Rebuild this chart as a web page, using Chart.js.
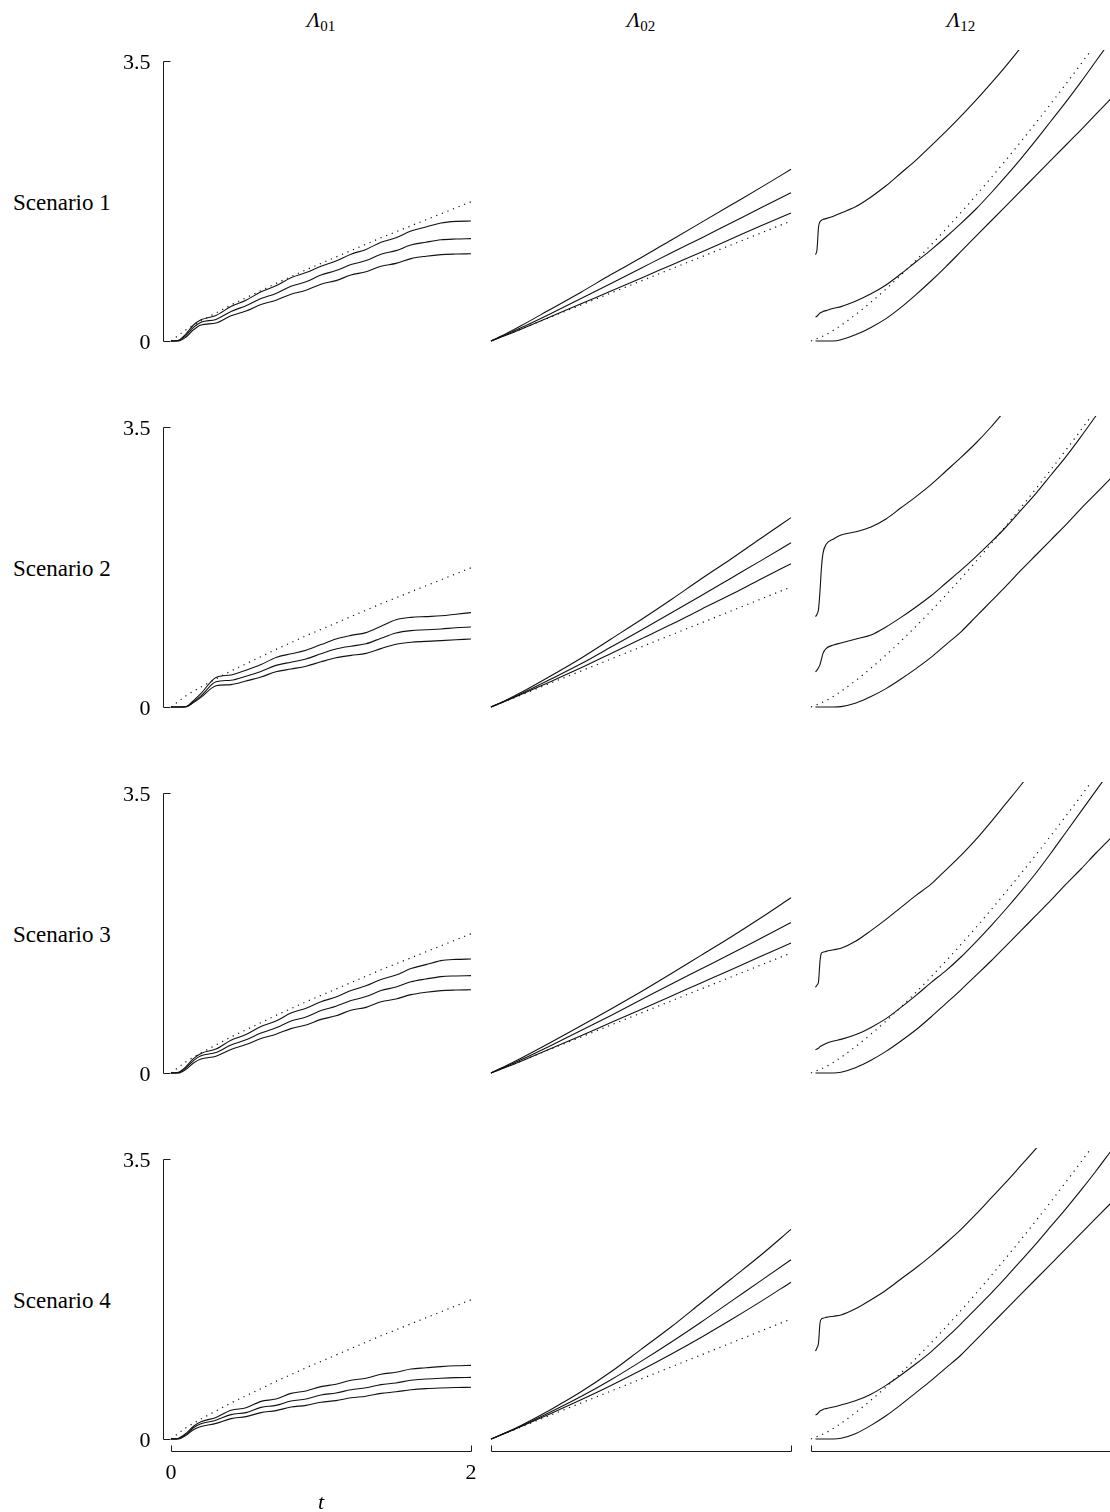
<!DOCTYPE html>
<html>
<head>
<meta charset="utf-8">
<script src="https://cdn.jsdelivr.net/npm/chart.js@4.4.1/dist/chart.umd.min.js"></script>
<style>
  html, body { margin: 0; padding: 0; background: #fff; overflow: hidden; }
  #page { position: relative; width: 1110px; height: 1512px; overflow: hidden;
          font-family: "Liberation Serif", "Times New Roman", serif; color: #000; }
  #page canvas { position: absolute; }
  .col-title { position: absolute; top: 9px; width: 120px; text-align: center;
               font-size: 22px; line-height: 1; white-space: nowrap; }
  .col-title i { font-style: italic; }
  .col-title span { font-size: 15px; position: relative; top: 4px; }
  .row-label { position: absolute; left: 13px; font-size: 23px; line-height: 1; white-space: nowrap; }
</style>
</head>
<body>
<div id="page"></div>
<script>
// ---- time grids ----
const tA = [0, 0.05, 0.1, 0.15, 0.2, 0.3, 0.4, 0.5, 0.6, 0.7, 0.8, 0.9, 1.0, 1.1, 1.2, 1.3, 1.4, 1.5, 1.6, 1.7, 1.8, 1.9, 2.0];
const tB = [0, 0.1, 0.2, 0.4, 0.6, 0.8, 1.0, 1.2, 1.4, 1.6, 1.8, 2.0];
const tC = [0.03, 0.04, 0.05, 0.06, 0.07, 0.08, 0.1, 0.15, 0.2, 0.3, 0.4, 0.5, 0.6, 0.7, 0.8, 0.9, 1.0, 1.1, 1.2, 1.3, 1.4, 1.5, 1.6, 1.7, 1.8, 1.9, 2.0];
const tD = [0, 0.1, 0.2, 0.3, 0.4, 0.5, 0.6, 0.7, 0.8, 0.9, 1.0, 1.1, 1.2, 1.3, 1.4, 1.5, 1.6, 1.7, 1.8, 1.9, 2.0];

// ---- labels ----
const transitions = ["01", "02", "12"];
const scenarios = ["Scenario 1", "Scenario 2", "Scenario 3", "Scenario 4"];
const yTicks = [0, 3.5];
const yTickLabels = ["0", "3.5"];
const xTicks = [0, 2];
const xTickLabels = ["0", "2"];
const xTitle = "t";

// ---- true cumulative hazards (dotted) ----
const true01 = [0, 0.14, 0.25, 0.35, 0.45, 0.54, 0.63, 0.72, 0.805, 0.89, 0.97, 1.05, 1.13, 1.21, 1.29, 1.365, 1.44, 1.515, 1.59, 1.665, 1.74];
const true02 = [0, 0.075, 0.15, 0.3, 0.45, 0.6, 0.75, 0.9, 1.05, 1.2, 1.35, 1.5];
const true12 = [0, 0.079, 0.196, 0.334, 0.486, 0.65, 0.825, 1.009, 1.201, 1.4, 1.607, 1.82, 2.039, 2.264, 2.494, 2.729, 2.969, 3.214, 3.463, 3.716, 3.973];

// ---- estimates, Lambda01 (upper / middle / lower) ----
const s1_01_hi  = [0, 0.01, 0.09, 0.2, 0.265, 0.32, 0.43, 0.51, 0.615, 0.69, 0.79, 0.855, 0.935, 1.0, 1.085, 1.145, 1.235, 1.29, 1.375, 1.425, 1.475, 1.495, 1.5];
const s1_01_mid = [0, 0.005, 0.07, 0.17, 0.235, 0.27, 0.37, 0.44, 0.53, 0.595, 0.685, 0.74, 0.825, 0.88, 0.955, 1.005, 1.085, 1.13, 1.2, 1.235, 1.265, 1.275, 1.28];
const s1_01_lo  = [0, 0, 0.05, 0.14, 0.2, 0.225, 0.315, 0.375, 0.455, 0.51, 0.585, 0.635, 0.71, 0.755, 0.825, 0.865, 0.935, 0.97, 1.03, 1.06, 1.08, 1.087, 1.09];

const s2_01_hi  = [0, 0, 0.005, 0.08, 0.17, 0.37, 0.40, 0.46, 0.53, 0.62, 0.665, 0.71, 0.78, 0.85, 0.895, 0.93, 1.01, 1.09, 1.12, 1.13, 1.14, 1.16, 1.18];
const s2_01_mid = [0, 0, 0.004, 0.065, 0.14, 0.315, 0.335, 0.385, 0.445, 0.52, 0.56, 0.60, 0.665, 0.725, 0.76, 0.79, 0.86, 0.925, 0.955, 0.965, 0.975, 0.99, 1.0];
const s2_01_lo  = [0, 0, 0.003, 0.055, 0.12, 0.265, 0.28, 0.325, 0.375, 0.44, 0.475, 0.51, 0.565, 0.615, 0.645, 0.67, 0.73, 0.785, 0.81, 0.82, 0.83, 0.84, 0.85];

const s3_01_hi  = [0, 0.01, 0.08, 0.18, 0.245, 0.3, 0.41, 0.48, 0.58, 0.65, 0.75, 0.81, 0.89, 0.95, 1.03, 1.09, 1.17, 1.225, 1.305, 1.355, 1.405, 1.42, 1.425];
const s3_01_mid = [0, 0.005, 0.065, 0.155, 0.215, 0.255, 0.35, 0.415, 0.5, 0.565, 0.65, 0.7, 0.78, 0.835, 0.905, 0.955, 1.03, 1.075, 1.14, 1.175, 1.205, 1.213, 1.217];
const s3_01_lo  = [0, 0, 0.045, 0.125, 0.175, 0.21, 0.295, 0.355, 0.43, 0.485, 0.555, 0.6, 0.67, 0.715, 0.785, 0.82, 0.89, 0.925, 0.98, 1.01, 1.03, 1.037, 1.04];

const s4_01_hi  = [0, 0.01, 0.07, 0.16, 0.215, 0.27, 0.36, 0.39, 0.47, 0.5, 0.57, 0.6, 0.655, 0.685, 0.735, 0.76, 0.81, 0.835, 0.875, 0.89, 0.905, 0.915, 0.92];
const s4_01_mid = [0, 0.005, 0.055, 0.14, 0.19, 0.235, 0.305, 0.33, 0.395, 0.42, 0.475, 0.5, 0.55, 0.575, 0.615, 0.64, 0.68, 0.7, 0.735, 0.75, 0.76, 0.767, 0.77];
const s4_01_lo  = [0, 0, 0.045, 0.115, 0.155, 0.195, 0.255, 0.28, 0.33, 0.355, 0.4, 0.42, 0.46, 0.48, 0.515, 0.535, 0.57, 0.59, 0.615, 0.63, 0.638, 0.643, 0.646];

// ---- estimates, Lambda02 ----
const s1_02_hi  = [0, 0.09, 0.19, 0.4, 0.61, 0.83, 1.04, 1.26, 1.48, 1.7, 1.92, 2.146];
const s1_02_mid = [0, 0.08, 0.165, 0.345, 0.53, 0.72, 0.91, 1.1, 1.285, 1.475, 1.665, 1.854];
const s1_02_lo  = [0, 0.072, 0.148, 0.305, 0.465, 0.625, 0.785, 0.948, 1.11, 1.275, 1.44, 1.6];

const s2_02_hi  = [0, 0.085, 0.18, 0.39, 0.61, 0.85, 1.09, 1.34, 1.6, 1.85, 2.11, 2.367];
const s2_02_mid = [0, 0.08, 0.165, 0.35, 0.54, 0.75, 0.96, 1.175, 1.39, 1.61, 1.83, 2.054];
const s2_02_lo  = [0, 0.075, 0.155, 0.32, 0.49, 0.67, 0.85, 1.03, 1.22, 1.405, 1.6, 1.79];

const s3_02_hi  = [0, 0.09, 0.185, 0.385, 0.59, 0.8, 1.015, 1.24, 1.47, 1.7, 1.94, 2.19];
const s3_02_mid = [0, 0.08, 0.165, 0.345, 0.53, 0.72, 0.915, 1.11, 1.3, 1.49, 1.685, 1.88];
const s3_02_lo  = [0, 0.072, 0.148, 0.305, 0.465, 0.63, 0.795, 0.96, 1.125, 1.29, 1.46, 1.625];

const s4_02_hi  = [0, 0.08, 0.17, 0.37, 0.59, 0.84, 1.12, 1.4, 1.7, 2.0, 2.3, 2.62];
const s4_02_mid = [0, 0.078, 0.16, 0.34, 0.53, 0.74, 0.97, 1.21, 1.46, 1.72, 1.98, 2.24];
const s4_02_lo  = [0, 0.076, 0.155, 0.32, 0.49, 0.67, 0.86, 1.06, 1.27, 1.49, 1.72, 1.96];

// ---- estimates, Lambda12 (null = above the top of the panel) ----
const s1_12_hi  = [1.08, 1.14, 1.42, 1.49, 1.51, 1.52, 1.53, 1.56, 1.6, 1.68, 1.8, 1.94, 2.1, 2.26, 2.44, 2.62, 2.81, 3.01, 3.22, 3.44, 3.67, null, null, null, null, null, null];
const s1_12_mid = [0.3, 0.31, 0.33, 0.35, 0.36, 0.37, 0.38, 0.41, 0.43, 0.5, 0.59, 0.7, 0.84, 0.99, 1.14, 1.3, 1.47, 1.65, 1.85, 2.06, 2.28, 2.51, 2.75, 2.99, 3.24, 3.5, 3.76];
const s1_12_lo  = [0, 0, 0, 0, 0, 0, 0, 0, 0.015, 0.08, 0.17, 0.28, 0.42, 0.58, 0.75, 0.93, 1.12, 1.31, 1.5, 1.69, 1.88, 2.07, 2.26, 2.45, 2.64, 2.835, 3.03];

const s2_12_hi  = [1.13, 1.16, 1.22, 1.45, 1.75, 1.92, 2.03, 2.1, 2.15, 2.19, 2.25, 2.35, 2.49, 2.63, 2.78, 2.95, 3.12, 3.3, 3.5, 3.72, null, null, null, null, null, null, null];
const s2_12_mid = [0.44, 0.46, 0.49, 0.53, 0.6, 0.67, 0.73, 0.775, 0.8, 0.85, 0.9, 1.0, 1.12, 1.25, 1.39, 1.55, 1.71, 1.88, 2.06, 2.25, 2.46, 2.67, 2.9, 3.13, 3.38, 3.64, 3.9];
const s2_12_lo  = [0, 0, 0, 0, 0, 0, 0, 0, 0.005, 0.05, 0.13, 0.23, 0.35, 0.48, 0.62, 0.78, 0.94, 1.13, 1.32, 1.51, 1.71, 1.9, 2.09, 2.28, 2.48, 2.67, 2.86];

const s3_12_hi  = [1.07, 1.1, 1.14, 1.4, 1.5, 1.51, 1.52, 1.54, 1.56, 1.65, 1.78, 1.92, 2.07, 2.22, 2.36, 2.54, 2.72, 2.92, 3.14, 3.37, 3.6, 3.85, null, null, null, null, null];
const s3_12_mid = [0.29, 0.3, 0.31, 0.33, 0.34, 0.35, 0.37, 0.4, 0.42, 0.48, 0.57, 0.68, 0.82, 0.97, 1.13, 1.28, 1.45, 1.64, 1.84, 2.05, 2.27, 2.5, 2.75, 3.01, 3.27, 3.53, 3.79];
const s3_12_lo  = [0, 0, 0, 0, 0, 0, 0, 0, 0.01, 0.07, 0.16, 0.27, 0.4, 0.54, 0.7, 0.87, 1.04, 1.22, 1.4, 1.59, 1.78, 1.97, 2.16, 2.36, 2.55, 2.75, 2.94];

const s4_12_hi  = [1.1, 1.14, 1.2, 1.45, 1.5, 1.51, 1.52, 1.535, 1.55, 1.63, 1.74, 1.86, 2.0, 2.14, 2.29, 2.45, 2.62, 2.81, 3.01, 3.21, 3.42, 3.63, 3.85, null, null, null, null];
const s4_12_mid = [0.3, 0.31, 0.33, 0.35, 0.36, 0.37, 0.38, 0.4, 0.425, 0.48, 0.56, 0.67, 0.8, 0.94, 1.09, 1.26, 1.44, 1.63, 1.82, 2.02, 2.23, 2.44, 2.66, 2.88, 3.11, 3.35, 3.6];
const s4_12_lo  = [0, 0, 0, 0, 0, 0, 0, 0, 0.01, 0.07, 0.17, 0.29, 0.43, 0.58, 0.73, 0.89, 1.05, 1.24, 1.43, 1.62, 1.81, 2.0, 2.19, 2.38, 2.57, 2.76, 2.95];

// ---- panel table: [row][col] -> estimate curves + truth ----
const panels = [
  [[tA, [s1_01_hi, s1_01_mid, s1_01_lo], tD, true01], [tB, [s1_02_hi, s1_02_mid, s1_02_lo], tB, true02], [tC, [s1_12_hi, s1_12_mid, s1_12_lo], tD, true12]],
  [[tA, [s2_01_hi, s2_01_mid, s2_01_lo], tD, true01], [tB, [s2_02_hi, s2_02_mid, s2_02_lo], tB, true02], [tC, [s2_12_hi, s2_12_mid, s2_12_lo], tD, true12]],
  [[tA, [s3_01_hi, s3_01_mid, s3_01_lo], tD, true01], [tB, [s3_02_hi, s3_02_mid, s3_02_lo], tB, true02], [tC, [s3_12_hi, s3_12_mid, s3_12_lo], tD, true12]],
  [[tA, [s4_01_hi, s4_01_mid, s4_01_lo], tD, true01], [tB, [s4_02_hi, s4_02_mid, s4_02_lo], tB, true02], [tC, [s4_12_hi, s4_12_mid, s4_12_lo], tD, true12]]
];

// ---- layout ----
const colX0 = [171, 491, 811];        // pixel of t = 0 in each column
const rowY0 = [341, 707, 1073, 1439]; // pixel of 0 in each row
const pxPerT = 150, pxPerY = 80, areaH = 291;
const yMax = areaH / pxPerY;
const FONT = '"Liberation Serif", "Times New Roman", serif';

const page = document.getElementById('page');

function toXY(ts, vs) { return ts.map((t, i) => ({ x: t, y: vs[i] })); }

// R-style axes: the line spans only the tick range, ticks point inward
function axesPlugin(showY, showX, showXLabels) {
  return {
    id: 'panelAxes',
    afterDraw(chart) {
      const { ctx } = chart;
      const xs = chart.scales.x, ys = chart.scales.y;
      ctx.save();
      ctx.strokeStyle = '#1a1a1a';
      ctx.lineWidth = 1;
      ctx.fillStyle = '#000';
      if (showY) {
        const ax = Math.round(xs.getPixelForValue(0)) - 8 + 0.5;
        const pTop = Math.round(ys.getPixelForValue(yTicks[yTicks.length - 1])) + 0.5;
        const pBot = Math.round(ys.getPixelForValue(yTicks[0])) + 0.5;
        ctx.beginPath();
        ctx.moveTo(ax, pTop); ctx.lineTo(ax, pBot);
        yTicks.forEach(v => {
          const py = Math.round(ys.getPixelForValue(v)) + 0.5;
          ctx.moveTo(ax, py); ctx.lineTo(ax + 7, py);
        });
        ctx.stroke();
        ctx.font = '22px ' + FONT;
        ctx.textAlign = 'right';
        ctx.textBaseline = 'alphabetic';
        yTicks.forEach((v, i) => ctx.fillText(yTickLabels[i], ax - 13, ys.getPixelForValue(v) + 7.5));
      }
      if (showX) {
        const ay = Math.round(ys.getPixelForValue(0)) + 12 + 0.5;
        const pL = Math.round(xs.getPixelForValue(xTicks[0])) + 0.5;
        const pR = Math.round(xs.getPixelForValue(xTicks[xTicks.length - 1])) + 0.5;
        ctx.beginPath();
        ctx.moveTo(pL, ay); ctx.lineTo(pR, ay);
        xTicks.forEach(v => {
          const px = Math.round(xs.getPixelForValue(v)) + 0.5;
          ctx.moveTo(px, ay); ctx.lineTo(px, ay - 6);
        });
        ctx.stroke();
        if (showXLabels) {
          ctx.font = '22px ' + FONT;
          ctx.textAlign = 'center';
          ctx.textBaseline = 'alphabetic';
          xTicks.forEach((v, i) => ctx.fillText(xTickLabels[i], xs.getPixelForValue(v), ay + 27));
          ctx.font = 'italic 22px ' + FONT;
          ctx.fillText(xTitle, (xs.getPixelForValue(xTicks[0]) + xs.getPixelForValue(xTicks[1])) / 2, ay + 57);
        }
      }
      ctx.restore();
    }
  };
}

// column titles
transitions.forEach((tr, c) => {
  const d = document.createElement('div');
  d.className = 'col-title';
  d.style.left = (colX0[c] + pxPerT - 60) + 'px';
  d.innerHTML = '<i>\u039B</i><span>' + tr + '</span>';
  page.appendChild(d);
});

// row labels
scenarios.forEach((s, r) => {
  const d = document.createElement('div');
  d.className = 'row-label';
  d.style.top = (rowY0[r] - 150) + 'px';
  d.textContent = s;
  page.appendChild(d);
});

// panels
for (let r = 0; r < 4; r++) {
  for (let c = 0; c < 3; c++) {
    const [ts, curves, tTrue, vTrue] = panels[r][c];
    const padL = c === 0 ? 75 : 12, padR = 12, padT = 4, padB = r === 3 ? 75 : 16;
    const cv = document.createElement('canvas');
    const w = padL + 2 * pxPerT + padR, h = padT + areaH + padB;
    cv.width = w; cv.height = h;
    cv.style.left = (colX0[c] - padL) + 'px';
    cv.style.top = (rowY0[r] - areaH - padT) + 'px';
    cv.style.width = w + 'px'; cv.style.height = h + 'px';
    page.appendChild(cv);

    const clip = { left: 3, right: 3, top: 0, bottom: 3 };
    const datasets = curves.map(vs => ({
      data: toXY(ts, vs),
      borderColor: '#111',
      borderWidth: 1.1,
      pointRadius: 0,
      cubicInterpolationMode: 'monotone',
      spanGaps: false,
      clip
    }));
    datasets.push({
      data: toXY(tTrue, vTrue),
      borderColor: '#111',
      borderWidth: 1.2,
      borderDash: [1.2, 4.8],
      pointRadius: 0,
      cubicInterpolationMode: 'monotone',
      clip
    });

    new Chart(cv, {
      type: 'line',
      data: { datasets },
      options: {
        responsive: false,
        animation: false,
        events: [],
        layout: { padding: { left: padL, right: padR, top: padT, bottom: padB } },
        scales: {
          x: { type: 'linear', min: 0, max: 2, display: false },
          y: { type: 'linear', min: 0, max: yMax, display: false }
        },
        plugins: { legend: { display: false }, tooltip: { enabled: false }, title: { display: false } }
      },
      plugins: [axesPlugin(c === 0, r === 3, r === 3 && c === 0)]
    });
  }
}
</script>
</body>
</html>
